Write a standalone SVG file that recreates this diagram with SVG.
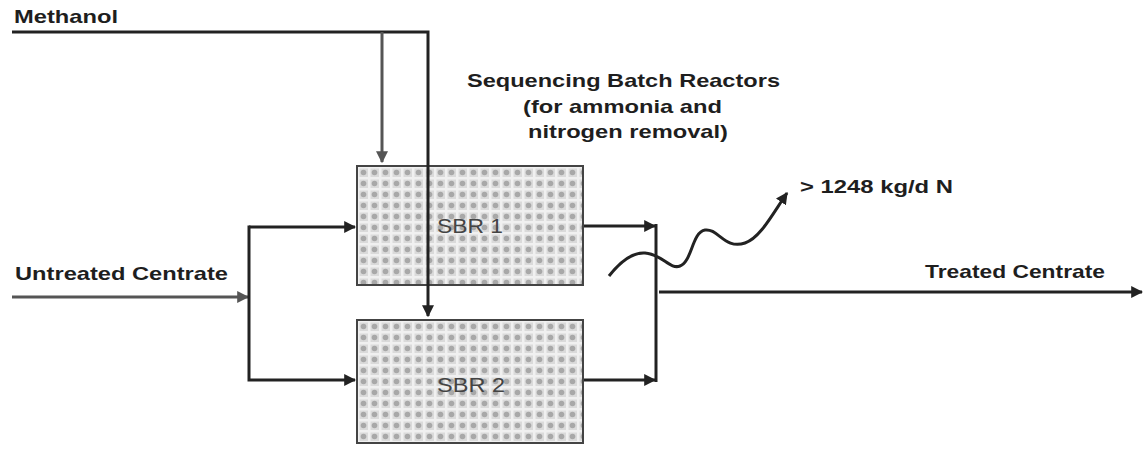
<svg xmlns="http://www.w3.org/2000/svg" width="1147" height="455" viewBox="0 0 1147 455">
<style>
.t{font-family:"Liberation Sans",Arial,sans-serif;font-weight:bold;font-size:19px;fill:#1e1e1e}
.c{fill:none;stroke:#222;stroke-width:3}
.g{fill:none;stroke:#555;stroke-width:3}
.box{stroke:#444;stroke-width:2;fill:url(#dots)}
.lbl{font-family:"Liberation Sans",Arial,sans-serif;font-size:20px;fill:#444;text-anchor:middle}
</style>
<defs>
<pattern id="dots" x="357" y="166" width="11" height="11" patternUnits="userSpaceOnUse">
<rect width="11" height="11" fill="#dadada"/>
<rect x="0" y="0" width="11" height="2.5" fill="#f0f0f0"/>
<rect x="0" y="0" width="2.5" height="11" fill="#f0f0f0"/>
<circle cx="6.5" cy="6.5" r="2.8" fill="#a8a8a8"/>
</pattern>
<marker id="a" viewBox="0 0 10 10" refX="9" refY="5" markerWidth="4" markerHeight="4" orient="auto" markerUnits="strokeWidth">
<path d="M0,0 L10,5 L0,10 z" fill="#222"/>
</marker>
<marker id="ag" viewBox="0 0 10 10" refX="9" refY="5" markerWidth="4" markerHeight="4" orient="auto" markerUnits="strokeWidth">
<path d="M0,0 L10,5 L0,10 z" fill="#555"/>
</marker>
</defs>
<rect width="1147" height="455" fill="#fff"/>
<g id="connectors">
<path class="c" d="M12,32 H428 V150"/>
<path class="g" d="M382,32 V162" marker-end="url(#ag)"/>
<path class="g" d="M12,297 H248" marker-end="url(#ag)"/>
<path class="c" d="M249,227 H355" marker-end="url(#a)"/>
<path class="c" d="M249,225.5 V380 H355" marker-end="url(#a)"/>
<path class="c" d="M584,226 H655" marker-end="url(#a)"/>
<path class="c" d="M584,380 H655" marker-end="url(#a)"/>
<path class="c" d="M656,224 V382"/>
<path class="c" d="M659,292 H1142" marker-end="url(#a)"/>
<path class="c" d="M609,276 C620,262 632,252 645,253 C662,254 670,270 680,266 C692,262 692,232 705,230 C718,228 725,250 745,243 C760,238 772,215 787,193" marker-end="url(#a)"/>
</g>
<g id="sbr1">
<rect class="box" x="357" y="166" width="226" height="119"/>
<text class="lbl" x="470" y="233" textLength="66" lengthAdjust="spacingAndGlyphs">SBR 1</text>
</g>
<g id="sbr2">
<rect class="box" x="357" y="320" width="226" height="123"/>
<text class="lbl" x="471" y="392" textLength="68" lengthAdjust="spacingAndGlyphs">SBR 2</text>
</g>
<path class="c" d="M428,150 V316" marker-end="url(#a)"/>
<g id="labels">
<text class="t" x="14" y="23" textLength="104" lengthAdjust="spacingAndGlyphs">Methanol</text>
<text class="t" x="15" y="280" textLength="213" lengthAdjust="spacingAndGlyphs">Untreated Centrate</text>
<text class="t" x="925" y="278" textLength="180" lengthAdjust="spacingAndGlyphs">Treated Centrate</text>
<text class="t" x="800" y="193" textLength="153" lengthAdjust="spacingAndGlyphs">&gt; 1248 kg/d N</text>
<text class="t" x="467" y="87" textLength="313" lengthAdjust="spacingAndGlyphs">Sequencing Batch Reactors</text>
<text class="t" x="523" y="113" textLength="199" lengthAdjust="spacingAndGlyphs">(for ammonia and</text>
<text class="t" x="528" y="138" textLength="200" lengthAdjust="spacingAndGlyphs">nitrogen removal)</text>
</g>
</svg>
